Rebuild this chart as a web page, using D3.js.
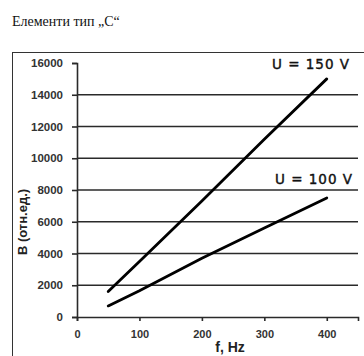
<!DOCTYPE html>
<html>
<head>
<meta charset="utf-8">
<script src="https://cdn.jsdelivr.net/npm/d3@7"></script>
<style>
  body { margin: 0; background: #fff; }
  svg { display: block; }
</style>
</head>
<body>
<svg width="364" height="356"></svg>
<script>
// data
var freqs = [50, 100, 200, 300, 400];
var b150 = [1600, 3500, 7300, 11200, 15000];
var b100 = [700, 1650, 3700, 5600, 7500];
var yTicks = [0, 2000, 4000, 6000, 8000, 10000, 12000, 14000, 16000];
var xTicks = [0, 100, 200, 300, 400];
var seriesNames = ["U = 150 V", "U = 100 V"];

var svg = d3.select("svg");

var x = d3.scaleLinear().domain([0, 450]).range([77, 358]);
var y = d3.scaleLinear().domain([0, 16000]).range([317, 63]);

// title
svg.append("text")
   .attr("x", 12).attr("y", 26)
   .attr("font-family", "Liberation Serif, serif")
   .attr("font-size", 14)
   .attr("fill", "#111")
   .text("Елементи тип „С“");

// frame
svg.append("rect")
   .attr("x", 12.5).attr("y", 52.5)
   .attr("width", 420).attr("height", 400)
   .attr("fill", "none")
   .attr("stroke", "#333")
   .attr("stroke-width", 1);

// gridlines
svg.append("g")
   .selectAll("line")
   .data(yTicks.filter(function(d) { return d > 0 && d < 16000; }))
   .enter().append("line")
   .attr("x1", x(0)).attr("x2", x(450))
   .attr("y1", function(d) { return y(d); })
   .attr("y2", function(d) { return y(d); })
   .attr("stroke", "#2a2a2a")
   .attr("stroke-width", 1.6);

// y axis
var yAxis = svg.append("g")
   .attr("transform", "translate(" + x(0) + ",0)")
   .call(d3.axisLeft(y).tickValues(yTicks).tickSize(5).tickPadding(9).tickFormat(d3.format("d")));
yAxis.select(".domain").attr("stroke", "#2a2a2a").attr("stroke-width", 1.6);
yAxis.selectAll(".tick line").attr("stroke", "#2a2a2a").attr("stroke-width", 1.6);
yAxis.selectAll("text")
   .attr("font-family", "Liberation Sans, Arial, sans-serif")
   .attr("font-weight", "bold")
   .attr("font-size", 11.5)
   .attr("fill", "#333");

// x axis
var xAxis = svg.append("g")
   .attr("transform", "translate(0," + y(0) + ")")
   .call(d3.axisBottom(x).tickValues(xTicks).tickSize(4).tickPadding(9).tickFormat(d3.format("d")));
xAxis.select(".domain").attr("stroke", "#2a2a2a").attr("stroke-width", 1.6);
xAxis.selectAll(".tick line").attr("stroke", "#2a2a2a").attr("stroke-width", 1.6);
xAxis.selectAll("text")
   .attr("font-family", "Liberation Sans, Arial, sans-serif")
   .attr("font-weight", "bold")
   .attr("font-size", 11)
   .attr("fill", "#333");

// axis titles
svg.append("text")
   .attr("transform", "translate(27,222) rotate(-90)")
   .attr("text-anchor", "middle")
   .attr("font-family", "Liberation Sans, Arial, sans-serif")
   .attr("font-weight", "bold")
   .attr("font-size", 13)
   .attr("fill", "#222")
   .text("B (отн.ед.)");

svg.append("text")
   .attr("x", 230).attr("y", 352)
   .attr("text-anchor", "middle")
   .attr("font-family", "Liberation Sans, Arial, sans-serif")
   .attr("font-weight", "bold")
   .attr("font-size", 14)
   .attr("fill", "#222")
   .text("f, Hz");

// lines
var line = d3.line()
   .x(function(d) { return x(d[0]); })
   .y(function(d) { return y(d[1]); });

[b150, b100].forEach(function(vals) {
  svg.append("path")
     .datum(d3.zip(freqs, vals))
     .attr("d", line)
     .attr("fill", "none")
     .attr("stroke", "#000")
     .attr("stroke-width", 2.8)
     .attr("stroke-linecap", "round");
});

// series labels
[[seriesNames[0], 272, 69], [seriesNames[1], 275, 184]].forEach(function(s) {
  svg.append("text")
     .attr("x", s[1]).attr("y", s[2])
     .attr("font-family", "DejaVu Sans, sans-serif")
     .attr("font-size", 13.5)
     .attr("letter-spacing", 1)
     .attr("fill", "#111")
     .attr("stroke", "#111")
     .attr("stroke-width", 0.4)
     .text(s[0]);
});
</script>
</body>
</html>
